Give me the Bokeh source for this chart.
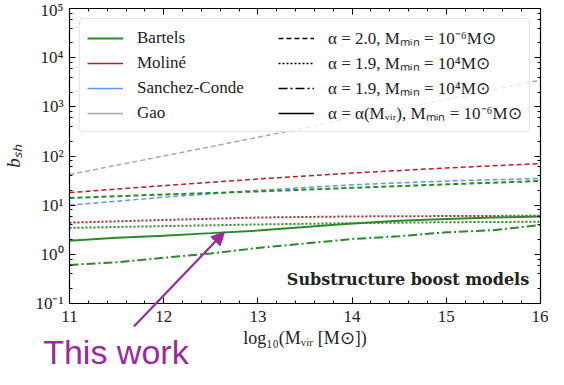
from bokeh.plotting import figure
from bokeh.layouts import column
from bokeh.models import (Legend, LegendItem, Label, Arrow, NormalHead, LinearAxis, LogAxis,
                          SingleIntervalTicker, LogTicker, CustomJSTickFormatter, Range1d)
from bokeh.embed import file_html
from bokeh.resources import INLINE

# ---------------- data ----------------
log_mvir = [11, 12, 13, 14, 15, 16]
bartels_a20 = [14, 16.5, 19, 22.5, 26.5, 31]
moline_a20 = [18, 25, 34, 45, 57, 70]
sanchez_a20 = [10, 14.5, 20, 26, 31, 35]
gao_a20 = [42, 100, 240, 590, 1400, 3500]
moline_a19 = [4.4, 5.0, 5.6, 5.9, 6.0, 6.1]
bartels_a19 = [3.45, 3.75, 4.05, 4.3, 4.5, 4.6]

log_mvir_fine = [11, 11.5, 12, 12.5, 13, 13.5, 14, 14.5, 15, 15.5, 16]
bartels_a19_dd = [0.61, 0.69, 0.85, 1.04, 1.35, 1.66, 2.05, 2.34, 2.8, 3.1, 3.95]
bartels_alpha = [1.88, 2.17, 2.4, 2.7, 3.05, 3.6, 4.25, 4.8, 5.25, 5.6, 5.9]

model_names = ["Bartels", "Moliné", "Sanchez-Conde", "Gao"]
style_names = ["α = 2.0, Mₘᵢₙ = 10⁻⁶M⊙", "α = 1.9, Mₘᵢₙ = 10⁴M⊙",
               "α = 1.9, Mₘᵢₙ = 10⁴M⊙", "α = α(Mᵥᵢᵣ), Mₘᵢₙ = 10⁻⁶M⊙"]

GREEN = "#2a8a2a"
RED = "#b22222"
BLUE = "#6495ed"
GRAY = "#a9a9a9"
PURPLE = "#9b2a9b"
SERIF = "Liberation Serif"

DASH = "5 3"
DOT = "2 2"
DASHDOT = "9 3 2 3"

# geometry (screen layout)
W, H = 548, 369
ML, MR, MT, MB = 65, 8, 8, 66
FW, FH = W - ML - MR, H - MT - MB

p = figure(width=W, height=H, x_range=(11, 16), y_range=(0.1, 1e5),
           y_axis_type="log", output_backend="svg", toolbar_location=None,
           min_border_left=ML, min_border_right=MR, min_border_top=MT, min_border_bottom=MB)
p.frame_align = False
p.xgrid.visible = False
p.ygrid.visible = False
p.outline_line_color = "black"
p.extra_x_ranges = {"off": Range1d(100, 101)}

# ---------------- lines ----------------
p.line(log_mvir, gao_a20, line_color=GRAY, line_width=1.5, line_dash=DASH)
p.line(log_mvir, moline_a20, line_color=RED, line_width=1.5, line_dash=DASH)
p.line(log_mvir, sanchez_a20, line_color=BLUE, line_width=1.5, line_dash=DASH)
p.line(log_mvir, bartels_a20, line_color=GREEN, line_width=2, line_dash=DASH)
p.line(log_mvir, moline_a19, line_color=RED, line_width=2, line_dash=DOT)
p.line(log_mvir, bartels_a19, line_color=GREEN, line_width=2, line_dash=DOT)
p.line(log_mvir_fine, bartels_a19_dd, line_color=GREEN, line_width=2, line_dash=DASHDOT)
r_bartels = p.line(log_mvir_fine, bartels_alpha, line_color=GREEN, line_width=2)

# legend proxies (drawn on an off-screen x range, so only their legend swatches show)
def proxy(yvals, **kw):
    return p.line(log_mvir, yvals, x_range_name="off", line_width=1.5, **kw)

r_mol = proxy(moline_a20, line_color=RED)
r_sc = proxy(sanchez_a20, line_color=BLUE)
r_gao = proxy(gao_a20, line_color=GRAY)
r_s1 = proxy(bartels_a20, line_color="black", line_dash=DASH)
r_s2 = proxy(bartels_a19, line_color="black", line_dash=DOT)
r_s3 = proxy(moline_a19, line_color="black", line_dash=DASHDOT)
r_s4 = proxy(moline_a20, line_color="black")

items = [LegendItem(label=n, renderers=[r]) for n, r in zip(model_names, [r_bartels, r_mol, r_sc, r_gao])]
items += [LegendItem(label=n, renderers=[r]) for n, r in zip(style_names, [r_s1, r_s2, r_s3, r_s4])]
legend = Legend(items=items, ncols=2, location="top_left", orientation="vertical",
                glyph_width=36, glyph_height=20, label_standoff=14, label_width=139,
                spacing=2, padding=7, margin=10,
                label_text_font=SERIF, label_text_font_size="17px", label_text_color="#222222",
                border_line_color="#cccccc", border_line_width=1, border_radius=4,
                background_fill_color="white", background_fill_alpha=0.8)
p.add_layout(legend, "center")

# ---------------- axes ----------------
sup_code = """
const sup = {"-":"\u207b","0":"\u2070","1":"\u00b9","2":"\u00b2","3":"\u00b3","4":"\u2074","5":"\u2075","6":"\u2076","7":"\u2077","8":"\u2078","9":"\u2079"};
const e = Math.round(Math.log10(tick));
return "10" + String(e).split("").map(c => sup[c]).join("");
"""
p.xaxis.ticker = SingleIntervalTicker(interval=1, num_minor_ticks=5)
p.yaxis.ticker = LogTicker(desired_num_ticks=7)
p.yaxis.formatter = CustomJSTickFormatter(code=sup_code)

for ax in [p.xaxis[0], p.yaxis[0]]:
    ax.major_tick_in = 6
    ax.major_tick_out = 0
    ax.minor_tick_in = 3
    ax.minor_tick_out = 0
    ax.axis_line_color = "black"
    ax.axis_line_width = 1.2
    ax.major_tick_line_color = "black"
    ax.minor_tick_line_color = "black"
    ax.major_label_text_font = SERIF
    ax.major_label_text_font_size = "17px"
    ax.major_label_text_color = "#222222"
    ax.axis_label_text_font = SERIF
    ax.axis_label_text_color = "#222222"

p.xaxis.major_label_standoff = 7
p.yaxis.major_label_standoff = 6
p.xaxis.axis_label = "log₁₀(Mᵥᵢᵣ [M⊙])"
p.xaxis.axis_label_text_font_size = "18px"
p.xaxis.axis_label_text_font_style = "normal"
p.xaxis.axis_label_standoff = 3
p.yaxis.axis_label = "bₛₕ"
p.yaxis.axis_label_text_font_size = "19px"
p.yaxis.axis_label_text_font_style = "italic"
p.yaxis.axis_label_standoff = 8

top = LinearAxis(ticker=SingleIntervalTicker(interval=1, num_minor_ticks=5))
right = LogAxis(ticker=LogTicker(desired_num_ticks=7))
for ax in [top, right]:
    ax.major_tick_in = 6
    ax.major_tick_out = 0
    ax.minor_tick_in = 3
    ax.minor_tick_out = 0
    ax.axis_line_color = "black"
    ax.axis_line_width = 1.2
    ax.major_label_text_font_size = "1px"
    ax.major_label_text_color = None
    ax.major_label_standoff = 0
p.add_layout(top, "above")
p.add_layout(right, "right")

p.add_layout(Label(x=15.88, y=0.313, text="Substructure boost models",
                   text_font="DejaVu Serif", text_font_style="bold", text_font_size="16px",
                   text_align="right", text_baseline="alphabetic", text_color="#222222"))

# ---------------- overlay for the annotation that leaves the plot box ----------------
px_x = FW / 5.0          # pixels per unit of log10(Mvir)
px_dec = FH / 6.0        # pixels per decade of b_sh
qx0 = 11 - ML / px_x
qx1 = 16 + MR / px_x
qy1 = 10 ** (5 + MT / px_dec)
qy0 = 10 ** (-1 - MB / px_dec)

q = figure(width=W, height=H, x_range=Range1d(qx0, qx1), y_range=Range1d(qy0, qy1),
           y_axis_type="log", output_backend="svg", toolbar_location=None,
           x_axis_location=None, y_axis_location=None, min_border=0,
           background_fill_color=None, border_fill_color=None, outline_line_color=None)
q.frame_align = False
q.xgrid.visible = False
q.ygrid.visible = False
q.margin = (-H, 0, 0, 0)

q.add_layout(Arrow(end=NormalHead(size=13, fill_color=PURPLE, line_color=PURPLE),
                   x_start=11.72, y_start=0.034, x_end=12.674, y_end=2.85,
                   line_color=PURPLE, line_width=2.2))
q.add_layout(Label(x=10.765, y=0.0101, text="This work", text_font="Liberation Sans",
                   text_font_size="34px", text_color=PURPLE, text_baseline="alphabetic"))

open("out.html", "w").write(file_html(column(p, q), INLINE))
